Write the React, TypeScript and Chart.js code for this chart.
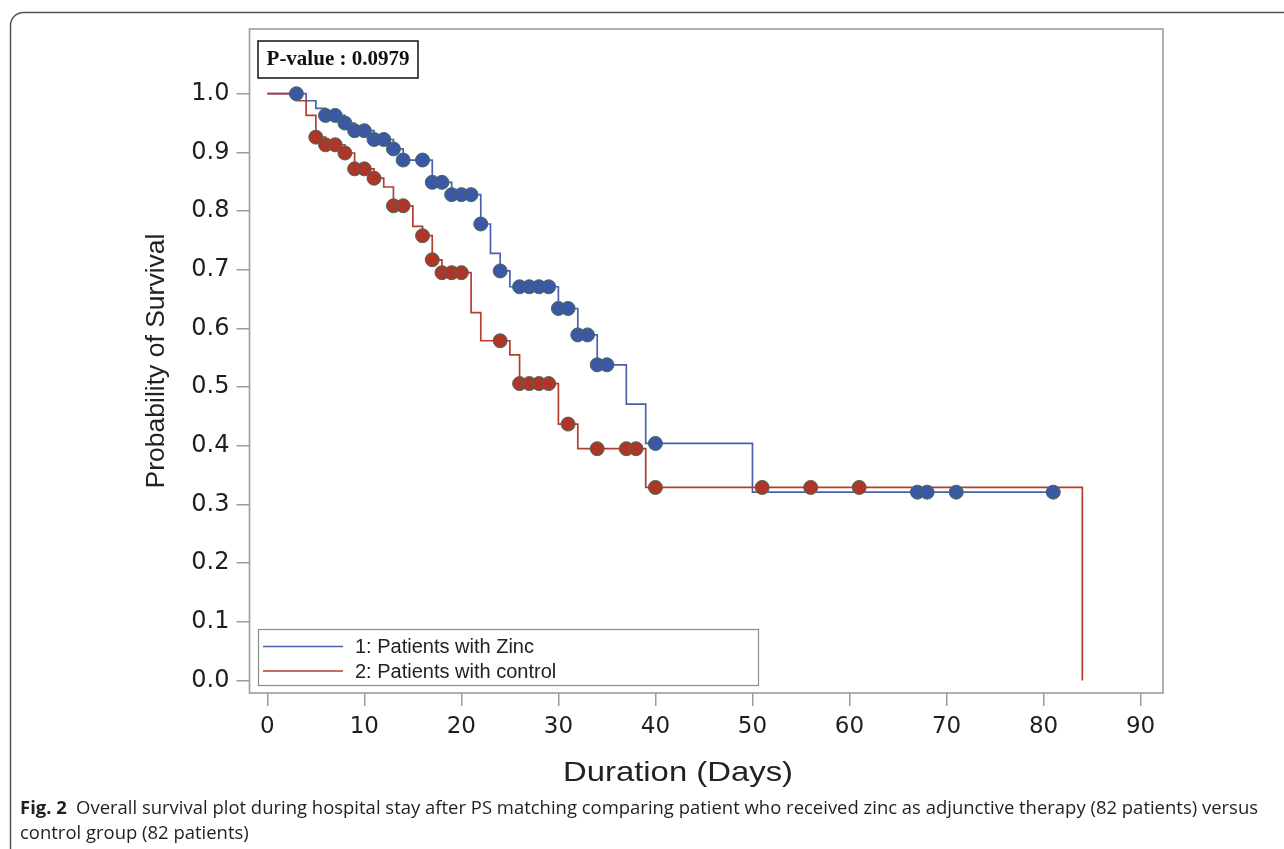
import React, { useEffect, useRef } from "react";
import { Chart, registerables } from "chart.js";

Chart.register(...registerables);

// ---------- data ----------
const xTicks = [0, 10, 20, 30, 40, 50, 60, 70, 80, 90];
const yTicks = [0, 0.1, 0.2, 0.3, 0.4, 0.5, 0.6, 0.7, 0.8, 0.9, 1.0];

// Kaplan-Meier step levels (level holds from the given day onward)
const zincTimes = [0, 4, 5, 6, 8, 9, 11, 13, 14, 17, 19, 22, 23, 24, 25, 30, 32, 34, 37, 39, 50, 81];
const zincSurv = [1.0, 0.988, 0.975, 0.963, 0.95, 0.937, 0.922, 0.906, 0.887, 0.849, 0.828, 0.778, 0.728, 0.698, 0.671, 0.634, 0.589, 0.538, 0.471, 0.404, 0.321, 0.321];
const zincCensor = [3, 6, 7, 8, 9, 10, 11, 12, 13, 14, 16, 17, 18, 19, 20, 21, 22, 24, 26, 27, 28, 29, 30, 31, 32, 33, 34, 35, 40, 67, 68, 71, 81];

const controlTimes = [0, 3, 4, 5, 6, 8, 9, 11, 12, 13, 15, 16, 17, 18, 21, 22, 25, 26, 30, 32, 39, 84];
const controlSurv = [1.0, 0.988, 0.963, 0.926, 0.913, 0.899, 0.872, 0.856, 0.841, 0.809, 0.774, 0.758, 0.717, 0.695, 0.627, 0.579, 0.555, 0.506, 0.437, 0.395, 0.329, 0.0];
const controlCensor = [5, 6, 7, 8, 9, 10, 11, 13, 14, 16, 17, 18, 19, 20, 24, 26, 27, 28, 29, 31, 34, 37, 38, 40, 51, 56, 61];

const seriesLabels = ["1: Patients with Zinc", "2: Patients with control"];
const pValueText = "P-value : 0.0979";
const xTitle = "Duration (Days)";
const yTitle = "Probability of Survival";
const captionLabel = "Fig. 2";
const captionLine1 = "Overall survival plot during hospital stay after PS matching comparing patient who received zinc as adjunctive therapy (82 patients) versus";
const captionLine2 = "control group (82 patients)";

// ---------- styling ----------
const BLUE_LINE = "#4862ad";
const BLUE_MARK = "#3a58a3";
const RED_LINE = "#b53d2e";
const RED_MARK = "#ae3628";
const MARK_EDGE = "#46675a";
const FRAME = "#9c9c9c";

const stepAt = (times: number[], vals: number[], t: number) => {
  let v = vals[0];
  for (let i = 0; i < times.length; i++) if (times[i] <= t) v = vals[i];
  return v;
};

const decorPlugin = {
  id: "decor",
  beforeDatasetsDraw(chart: any) {
    const { ctx, chartArea: a } = chart;
    ctx.save();
    ctx.strokeStyle = FRAME;
    ctx.lineWidth = 1.6;
    ctx.strokeRect(a.left, a.top, a.right - a.left, a.bottom - a.top);
    ctx.restore();
  },
  afterDraw(chart: any) {
    const { ctx } = chart;
    ctx.save();
    // outer rounded border
    ctx.strokeStyle = "#555";
    ctx.lineWidth = 1.5;
    ctx.beginPath();
    ctx.moveTo(10.5, 860);
    ctx.lineTo(10.5, 25);
    ctx.arcTo(10.5, 12.5, 23.5, 12.5, 13);
    ctx.lineTo(1300, 12.5);
    ctx.stroke();

    // x-axis title (drawn slightly left of the plot centre, as in the source)
    ctx.fillStyle = "#222";
    ctx.font = '28px "Liberation Sans"';
    ctx.textAlign = "center";
    ctx.textBaseline = "middle";
    const wt = ctx.measureText(xTitle).width;
    ctx.save();
    ctx.translate(678, 773);
    ctx.scale(230 / wt, 1);
    ctx.fillText(xTitle, 0, 0);
    ctx.restore();

    // P-value box
    ctx.strokeStyle = "#111";
    ctx.lineWidth = 1.5;
    ctx.strokeRect(258, 41, 160, 37);
    ctx.fillStyle = "#111";
    ctx.font = 'bold 21px "Liberation Serif"';
    ctx.textAlign = "center";
    ctx.textBaseline = "middle";
    ctx.fillText(pValueText, 338, 60);

    // legend
    ctx.strokeStyle = "#8c8c8c";
    ctx.lineWidth = 1.2;
    ctx.strokeRect(258.5, 629.5, 500, 56);
    const ds = chart.data.datasets;
    const lineSets = ds.filter((d: any) => d.legendRow !== undefined)
      .sort((p: any, q: any) => p.legendRow - q.legendRow);
    lineSets.forEach((d: any, i: number) => {
      const y = 646.5 + i * 24.5;
      ctx.strokeStyle = d.borderColor;
      ctx.lineWidth = 1.6;
      ctx.beginPath();
      ctx.moveTo(263, y);
      ctx.lineTo(343, y);
      ctx.stroke();
      ctx.fillStyle = "#222";
      ctx.font = '20px "Liberation Sans"';
      ctx.textAlign = "left";
      ctx.textBaseline = "middle";
      ctx.fillText(d.label, 355, y + 1);
    });

    // caption
    ctx.fillStyle = "#231f20";
    ctx.textAlign = "left";
    ctx.textBaseline = "alphabetic";
    const bold = 'bold 18px "Open Sans"';
    const reg = '18px "Open Sans"';
    ctx.font = bold;
    const wFig = ctx.measureText(captionLabel).width;
    ctx.font = reg;
    const gap = 9;
    const w1 = ctx.measureText(captionLine1).width;
    const sx = (1258 - 20) / (wFig + gap + w1);
    ctx.save();
    ctx.translate(20, 814);
    ctx.scale(sx, 1);
    ctx.font = bold;
    ctx.fillText(captionLabel, 0, 0);
    ctx.font = reg;
    ctx.fillText(captionLine1, wFig + gap, 0);
    ctx.restore();
    ctx.save();
    ctx.translate(20, 839);
    ctx.scale(sx, 1);
    ctx.font = reg;
    ctx.fillText(captionLine2, 0, 0);
    ctx.restore();
    ctx.restore();
  },
};

export default function App() {
  const ref = useRef<HTMLCanvasElement | null>(null);

  useEffect(() => {
    if (!ref.current) return;
    const padLeft = 141;
    const areaLeft = 249.5;
    const areaRight = 1163;
    const areaTop = 29;
    const areaBottom = 693;
    const W = 1284;
    const H = 849;

    const chart = new Chart(ref.current, {
      type: "line",
      data: {
        datasets: [
          {
            label: seriesLabels[1] + " censored",
            data: controlCensor.map((t) => ({ x: t, y: stepAt(controlTimes, controlSurv, t) })),
            showLine: false,
            pointRadius: 7,
            pointBackgroundColor: RED_MARK,
            pointBorderColor: MARK_EDGE,
            pointBorderWidth: 1,
            borderColor: RED_MARK,
          } as any,
          {
            label: seriesLabels[0] + " censored",
            data: zincCensor.map((t) => ({ x: t, y: stepAt(zincTimes, zincSurv, t) })),
            showLine: false,
            pointRadius: 7,
            pointBackgroundColor: BLUE_MARK,
            pointBorderColor: MARK_EDGE,
            pointBorderWidth: 1,
            borderColor: BLUE_MARK,
          } as any,
          {
            label: seriesLabels[1],
            legendRow: 1,
            data: controlTimes.map((t, i) => ({ x: t, y: controlSurv[i] })),
            stepped: true,
            borderColor: RED_LINE,
            borderWidth: 1.7,
            pointRadius: 0,
            fill: false,
          } as any,
          {
            label: seriesLabels[0],
            legendRow: 0,
            data: zincTimes.map((t, i) => ({ x: t, y: zincSurv[i] })),
            stepped: true,
            borderColor: BLUE_LINE,
            borderWidth: 1.7,
            pointRadius: 0,
            fill: false,
          } as any,
        ],
      },
      options: {
        animation: false,
        responsive: true,
        maintainAspectRatio: false,
        devicePixelRatio: 1,
        events: [],
        layout: {
          padding: { left: padLeft, top: areaTop, right: W - areaRight, bottom: 0 },
        },
        plugins: {
          legend: { display: false },
          tooltip: { enabled: false },
          title: { display: false },
        },
        scales: {
          x: {
            type: "linear",
            min: -1.835,
            max: 92.31,
            afterBuildTicks: (axis: any) => {
              axis.ticks = xTicks.map((v) => ({ value: v }));
            },
            afterFit: (axis: any) => {
              axis.height = H - areaBottom;
            },
            grid: {
              drawOnChartArea: false,
              drawTicks: true,
              tickLength: 13,
              color: FRAME,
              lineWidth: 1.5,
            },
            border: { display: false },
            ticks: {
              autoSkip: false,
              maxRotation: 0,
              padding: 7,
              color: "#1e1e1e",
              font: { family: "DejaVu Sans", size: 23 },
              callback: (v: any) => String(v),
            },
            title: { display: false, text: xTitle },
          },
          y: {
            type: "linear",
            min: -0.0213,
            max: 1.1103,
            afterBuildTicks: (axis: any) => {
              axis.ticks = yTicks.map((v) => ({ value: v }));
            },
            afterFit: (axis: any) => {
              axis.width = areaLeft - padLeft;
            },
            grid: {
              drawOnChartArea: false,
              drawTicks: true,
              tickLength: 13,
              color: FRAME,
              lineWidth: 1.5,
            },
            border: { display: false },
            ticks: {
              autoSkip: false,
              padding: 7,
              color: "#1e1e1e",
              font: { family: "DejaVu Sans", size: 24 },
              callback: (v: any) => Number(v).toFixed(1),
            },
            title: {
              display: true,
              text: yTitle,
              color: "#222",
              font: { family: "Liberation Sans", size: 26.5 },
              padding: { top: 0, bottom: 0 },
            },
          },
        },
      },
      plugins: [decorPlugin],
    } as any);

    return () => chart.destroy();
  }, []);

  return (
    <div style={{ position: "absolute", left: 0, top: 0, width: 1284, height: 849, background: "#fff" }}>
      <canvas ref={ref} />
    </div>
  );
}
